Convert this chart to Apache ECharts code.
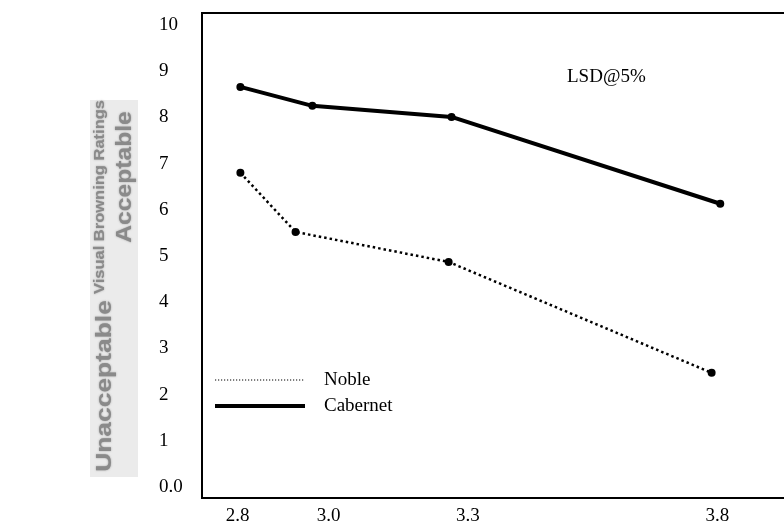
<!DOCTYPE html>
<html>
<head>
<meta charset="utf-8">
<script src="https://cdn.jsdelivr.net/npm/echarts@6/dist/echarts.min.js"></script>
<style>
  html, body { margin: 0; padding: 0; background: #ffffff; }
  #chart { width: 784px; height: 525px; }
</style>
</head>
<body>
<div id="chart"></div>
<script>
// ---- data ----
const seriesNames = ['Noble', 'Cabernet'];
// x = pH, y = visual browning rating
const nobleX = [2.806, 2.921, 3.240, 3.788];
const nobleY = [6.80, 5.52, 4.87, 2.47];
const cabernetX = [2.806, 2.956, 3.246, 3.806];
const cabernetY = [8.66, 8.25, 8.01, 6.13];
// tick labels
const xTickValues = [2.8, 2.99, 3.28, 3.8];
const xTickLabels = ['2.8', '3.0', '3.3', '3.8'];
const yTickValues = [0, 1, 2, 3, 4, 5, 6, 7, 8, 9, 10];
const yTickLabels = ['0.0', '1', '2', '3', '4', '5', '6', '7', '8', '9', '10'];
const annotation = 'LSD@5%';
const yTitle = 'Visual Browning Ratings';
const yBandTop = 'Acceptable';
const yBandBottom = 'Unacceptable';

const pairs = (xs, ys) => xs.map((x, i) => [x, ys[i]]);

const chart = echarts.init(document.getElementById('chart'), null, { renderer: 'canvas' });
const serif = 'Liberation Serif';
const axisFont = { fontFamily: serif, fontSize: 19, color: '#000' };
const grayText = {
  fill: '#8a8a8a', fontFamily: 'Liberation Sans', fontWeight: 'bold',
  textShadowColor: 'rgba(120,120,120,0.7)', textShadowBlur: 2,
  align: 'center', verticalAlign: 'middle'
};

chart.setOption({
  backgroundColor: '#ffffff',
  animation: false,
  grid: {
    left: 202, top: 13, width: 584, height: 485,
    show: true, borderColor: '#000', borderWidth: 2,
    outerBoundsMode: 'none', containLabel: false
  },
  xAxis: {
    type: 'value', min: 2.726, max: 3.943,
    axisLine: { show: false }, axisTick: { show: false }, splitLine: { show: false },
    axisLabel: {
      ...axisFont, margin: 9, customValues: xTickValues, showMinLabel: true, showMaxLabel: true,
      formatter: (v) => { const i = xTickValues.indexOf(v); return i >= 0 ? xTickLabels[i] : ''; }
    }
  },
  yAxis: {
    type: 'value', min: -0.24, max: 10.26,
    axisLine: { show: false }, axisTick: { show: false }, splitLine: { show: false },
    axisLabel: {
      ...axisFont, margin: 43, align: 'left', customValues: yTickValues,
      formatter: (v) => { const i = yTickValues.indexOf(v); return i >= 0 ? yTickLabels[i] : ''; }
    }
  },
  legend: {
    orient: 'vertical', left: 213, top: 370, padding: 0,
    itemWidth: 90, itemHeight: 10, itemGap: 6,
    textStyle: { fontFamily: serif, fontSize: 19, color: '#000', lineHeight: 20, padding: [0, 0, 0, 14] },
    itemStyle: { opacity: 0 },
    data: [
      { name: 'Noble', lineStyle: { width: 1.2, type: [1.2, 1.8], color: '#000' } },
      { name: 'Cabernet', lineStyle: { width: 4, type: 'solid', color: '#000' } }
    ]
  },
  graphic: [
    { type: 'rect', shape: { x: 90, y: 100, width: 48, height: 377 }, style: { fill: '#ebebeb' }, silent: true },
    { type: 'text', x: 125, y: 177, rotation: Math.PI / 2, scaleX: 1.12, style: { ...grayText, text: yBandTop, fontSize: 22 } },
    { type: 'text', x: 100, y: 197, rotation: Math.PI / 2, scaleX: 1.1, style: { ...grayText, text: yTitle, fontSize: 15 } },
    { type: 'text', x: 105, y: 386, rotation: Math.PI / 2, scaleX: 1.2, style: { ...grayText, text: yBandBottom, fontSize: 22 } },
    { type: 'text', x: 567, y: 77, style: { text: annotation, fill: '#000', fontFamily: serif, fontSize: 19, verticalAlign: 'middle' } }
  ],
  series: [
    {
      name: seriesNames[0], type: 'line', data: pairs(nobleX, nobleY),
      symbol: 'circle', symbolSize: 8, itemStyle: { color: '#000' },
      lineStyle: { color: '#000', width: 2.5, type: [2.5, 3] }
    },
    {
      name: seriesNames[1], type: 'line', data: pairs(cabernetX, cabernetY),
      symbol: 'circle', symbolSize: 8, itemStyle: { color: '#000' },
      lineStyle: { color: '#000', width: 4, type: 'solid' }
    }
  ]
});
</script>
</body>
</html>
